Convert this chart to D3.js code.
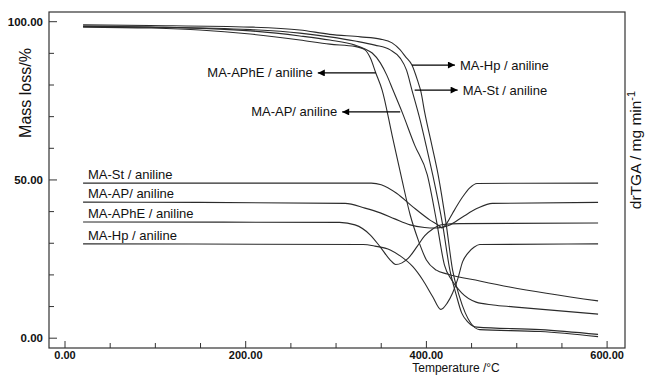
<!DOCTYPE html>
<html>
<head>
<meta charset="utf-8">
<script src="https://cdn.jsdelivr.net/npm/d3@7"></script>
<style>
  body { margin: 0; background: #fff; }
  svg { display: block; font-family: 'Liberation Sans', Arial, sans-serif; }
</style>
</head>
<body>
<div id="app"></div>
<script>
// TGA curves, [temperature °C, mass %]
let tgaHp = [[20,99.0],[94,98.8],[205,98.3],[260,97.4],[293,96.0],[327,95.2],[349,94.5],[362,93.3],[371,91.1],[377,88.9],[384,86.3],[390,81.6],[394,77.8],[398,71.5],[406,61.0],[413,51.6],[422,35.8],[429,21.5],[436,13.7],[443,8.0],[449,4.8],[459,2.7],[526,2.1],[590,0.5]]
let tgaSt = [[20,98.5],[94,98.3],[205,97.5],[260,96.4],[293,95.2],[321,93.9],[343,92.6],[360,91.1],[371,88.5],[378,84.7],[384,78.4],[393,69.0],[400,60.5],[407,51.6],[418,35.8],[426,21.5],[433,13.7],[439,8.0],[446,5.1],[456,3.5],[526,2.7],[590,1.2]]
let tgaAPhE = [[20,98.3],[94,98.0],[149,97.4],[205,96.1],[260,94.2],[293,92.9],[321,92.2],[332,91.1],[338,88.5],[344,83.8],[351,78.4],[362,64.2],[373,50.0],[382,39.0],[391,31.0],[400,24.7],[411,21.5],[423,20.3],[459,18.1],[492,16.2],[590,11.8]]
let tgaAP = [[20,98.6],[94,98.3],[205,97.1],[260,95.5],[293,94.2],[321,92.6],[332,91.4],[340,90.1],[349,87.0],[356,83.2],[363,78.4],[373,71.5],[387,61.0],[401,51.6],[411,37.3],[420,23.1],[428,18.4],[439,14.3],[455,11.4],[474,10.5],[496,9.9],[590,7.6]]

// drTGA curves, [temperature °C, signal] (right axis, no scale printed)
let dtgSt = [[20,49.0],[339,49.0],[350,48.5],[367,45.8],[385,41.5],[404,37.3],[415,35.3],[417,34.8],[423,36.5],[429,39.5],[440,44.6],[448,47.5],[456,48.9],[590,49.0]]
let dtgAP = [[20,43.0],[149,42.9],[310,42.6],[332,41.1],[349,39.6],[365,37.7],[382,35.8],[398,35.0],[409,34.8],[418,35.1],[426,35.8],[440,38.3],[457,41.1],[473,42.6],[590,42.9]]
let dtgAPhE = [[20,36.7],[304,36.6],[321,35.8],[338,32.6],[349,28.8],[360,24.7],[366,23.3],[373,23.8],[380,25.3],[390,29.1],[398,32.3],[407,34.5],[418,35.9],[437,36.2],[590,36.4]]
let dtgHp = [[20,29.8],[330,29.6],[343,29.1],[360,27.9],[371,26.0],[385,22.6],[396,18.4],[407,13.1],[416,9.1],[423,11.1],[429,14.3],[435,19.0],[440,24.1],[446,26.9],[453,28.8],[459,29.6],[590,29.8]]

let xTicks = [0, 200, 400, 600]
let yTicks = [0, 50, 100]

// arrow labels: [text, temperature at curve, mass at curve, direction]
let tgaLabels = [
  ['MA-Hp / aniline', 384, 86.3, 1],
  ['MA-St / aniline', 387, 78.4, 1],
  ['MA-APhE / aniline', 344, 83.8, -1],
  ['MA-AP/ aniline', 371, 71.5, -1]
]
let dtgLabels = ['MA-St / aniline', 'MA-AP/ aniline', 'MA-APhE / aniline', 'MA-Hp / aniline']

let W = 645, H = 375
let frame = { left: 49, right: 625, top: 12, bottom: 348 }

let svg = d3.select('#app').append('svg').attr('width', W).attr('height', H)

let x = d3.scaleLinear().domain([0, 600]).range([65, 607.1])
let y = d3.scaleLinear().domain([0, 100]).range([338.2, 21.7])
let yR = d3.scaleLinear().domain([0, 100]).range([338.2, 21.7])

svg.append('defs').append('marker')
  .attr('id', 'head')
  .attr('viewBox', '0 0 10 10')
  .attr('refX', 10).attr('refY', 5)
  .attr('markerWidth', 9).attr('markerHeight', 7)
  .attr('markerUnits', 'userSpaceOnUse')
  .attr('orient', 'auto')
  .append('path').attr('d', 'M0,0L10,5L0,10Z').style('fill', '#000')

// frame
svg.append('rect')
  .attr('x', frame.left).attr('y', frame.top)
  .attr('width', frame.right - frame.left).attr('height', frame.bottom - frame.top)
  .style('fill', 'none').style('stroke', '#333').style('stroke-width', 1.2)

// y ticks (inside)
let yMinor = d3.range(0, 101, 10)
svg.append('g').selectAll('line').data(yMinor).enter().append('line')
  .attr('x1', frame.left).attr('x2', d => frame.left + (d % 50 === 0 ? 8 : 5))
  .attr('y1', d => y(d)).attr('y2', d => y(d))
  .style('stroke', '#333').style('stroke-width', 1)
svg.append('g').selectAll('text').data(yTicks).enter().append('text')
  .attr('x', 43).attr('y', d => y(d) + 4)
  .attr('text-anchor', 'end')
  .style('font-size', '11.5px').style('font-weight', 'bold').style('fill', '#111')
  .text(d => d3.format('.2f')(d))

// x ticks (inside)
let xMinor = d3.range(0, 601, 50)
svg.append('g').selectAll('line').data(xMinor).enter().append('line')
  .attr('x1', d => x(d)).attr('x2', d => x(d))
  .attr('y1', frame.bottom).attr('y2', d => frame.bottom - (d % 200 === 0 ? 7 : 5))
  .style('stroke', '#333').style('stroke-width', 1)
svg.append('g').selectAll('text').data(xTicks).enter().append('text')
  .attr('x', d => x(d)).attr('y', 358.5)
  .attr('text-anchor', 'middle')
  .style('font-size', '11px').style('font-weight', 'bold').style('fill', '#111')
  .text(d => d3.format('.2f')(d))

// axis titles
svg.append('text')
  .attr('x', 456).attr('y', 372.3)
  .attr('text-anchor', 'middle')
  .style('font-size', '12px').style('fill', '#111')
  .text('Temperature /°C')
svg.append('text')
  .attr('transform', 'translate(31,93) rotate(-90)')
  .attr('text-anchor', 'middle')
  .style('font-size', '16px').style('fill', '#111')
  .text('Mass loss/%')
let rt = svg.append('text')
  .attr('transform', 'translate(641,150) rotate(-90)')
  .attr('text-anchor', 'middle')
  .style('font-size', '15.5px').style('fill', '#111')
rt.append('tspan').text('drTGA / mg min')
rt.append('tspan').attr('dy', -6).style('font-size', '11px').text('-1')

// curves
let line = d3.line().x(d => x(d[0])).y(d => y(d[1])).curve(d3.curveMonotoneX)
let lineR = d3.line().x(d => x(d[0])).y(d => yR(d[1])).curve(d3.curveMonotoneX)

let tga = [tgaHp, tgaSt, tgaAPhE, tgaAP]
let dtg = [dtgSt, dtgAP, dtgAPhE, dtgHp]

svg.append('g').selectAll('path').data(tga).enter().append('path')
  .attr('d', line)
  .style('fill', 'none').style('stroke', '#2b2b2b').style('stroke-width', 1.1)
svg.append('g').selectAll('path').data(dtg).enter().append('path')
  .attr('d', lineR)
  .style('fill', 'none').style('stroke', '#2b2b2b').style('stroke-width', 1.1)

// arrow labels for TGA curves
tgaLabels.forEach(l => {
  let x0 = x(l[1]), y0 = y(l[2])
  let len = l[3] > 0 ? 43 : 58
  let x1 = x0 + l[3] * len
  svg.append('line')
    .attr('x1', x0).attr('y1', y0).attr('x2', x1).attr('y2', y0)
    .attr('marker-end', 'url(#head)')
    .style('stroke', '#000').style('stroke-width', 1.2)
  svg.append('text')
    .attr('x', x1 + l[3] * 5).attr('y', y0 + 4.5)
    .attr('text-anchor', l[3] > 0 ? 'start' : 'end')
    .style('font-size', '13px').style('fill', '#111')
    .text(l[0])
})

// labels above DTG baselines
dtgLabels.forEach((t, i) => {
  let v = dtg[i][0][1]
  svg.append('text')
    .attr('x', 88).attr('y', yR(v) - 4)
    .style('font-size', '13px').style('fill', '#111')
    .text(t)
})
</script>
</body>
</html>
